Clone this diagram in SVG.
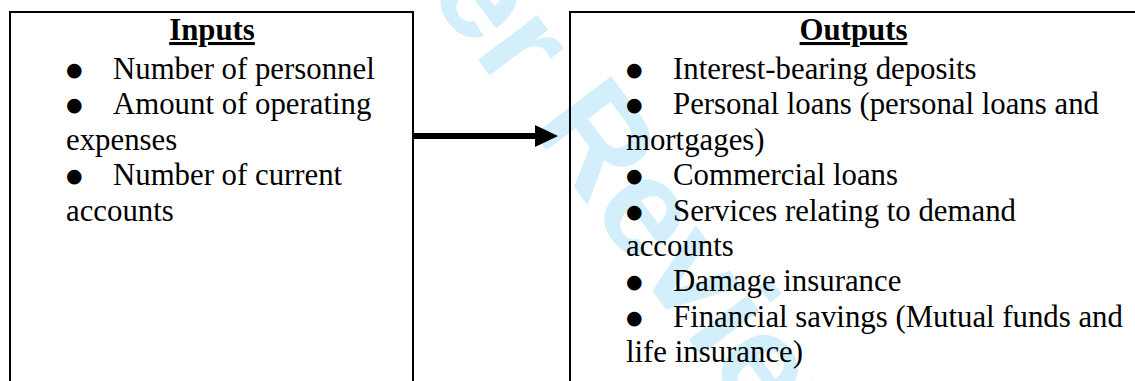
<svg xmlns="http://www.w3.org/2000/svg" width="1135" height="381" viewBox="0 0 1135 381">
  <style>
    .box { fill: none; stroke: #000; stroke-width: 2; }
    .t { font-family: "Liberation Serif", "Times New Roman", serif; font-size: 30.8px; fill: #000; }
    .b { font-family: "DejaVu Sans", sans-serif; font-size: 19px; fill: #000; }
    .h { font-weight: bold; text-anchor: middle; text-decoration: underline; }
    .wm { font-family: "Liberation Sans", Arial, sans-serif; font-weight: bold; font-size: 140px; fill: #d3effc; text-anchor: middle; }
  </style>
  <defs>
    <marker id="ah" viewBox="0 0 23 22" refX="0" refY="11" markerWidth="23" markerHeight="22" markerUnits="userSpaceOnUse" orient="auto">
      <path d="M0,0 L23,11 L0,22 Z" fill="#000"/>
    </marker>
  </defs>
  <rect width="1135" height="381" fill="#fff"/>
  <text class="wm" transform="translate(491,77) rotate(53)">For Peer Review</text>

  <g id="connectors">
    <line x1="413" y1="136" x2="535" y2="136" stroke="#000" stroke-width="6" marker-end="url(#ah)"/>
  </g>

  <g id="inputs">
    <rect class="box" x="10" y="12" width="403" height="400"/>
    <text class="t h" x="212" y="40">Inputs</text>
    <text class="b" x="66" y="76">●</text>
    <text class="t" x="113" y="79">Number of personnel</text>
    <text class="b" x="66" y="111.4">●</text>
    <text class="t" x="113" y="114.4">Amount of operating</text>
    <text class="t" x="66" y="149.8">expenses</text>
    <text class="b" x="66" y="182.2">●</text>
    <text class="t" x="113" y="185.2">Number of current</text>
    <text class="t" x="66" y="220.6">accounts</text>
  </g>

  <g id="outputs">
    <rect class="box" x="570" y="12" width="567" height="400"/>
    <text class="t h" x="853.5" y="40">Outputs</text>
    <text class="b" x="626" y="76">●</text>
    <text class="t" x="673" y="79">Interest-bearing deposits</text>
    <text class="b" x="626" y="111.4">●</text>
    <text class="t" x="673" y="114.4">Personal loans (personal loans and</text>
    <text class="t" x="626" y="149.8">mortgages)</text>
    <text class="b" x="626" y="182.2">●</text>
    <text class="t" x="673" y="185.2">Commercial loans</text>
    <text class="b" x="626" y="217.6">●</text>
    <text class="t" x="673" y="220.6">Services relating to demand</text>
    <text class="t" x="626" y="256">accounts</text>
    <text class="b" x="626" y="288.4">●</text>
    <text class="t" x="673" y="291.4">Damage insurance</text>
    <text class="b" x="626" y="323.8">●</text>
    <text class="t" x="673" y="326.8">Financial savings (Mutual funds and</text>
    <text class="t" x="626" y="362.2">life insurance)</text>
  </g>
</svg>
